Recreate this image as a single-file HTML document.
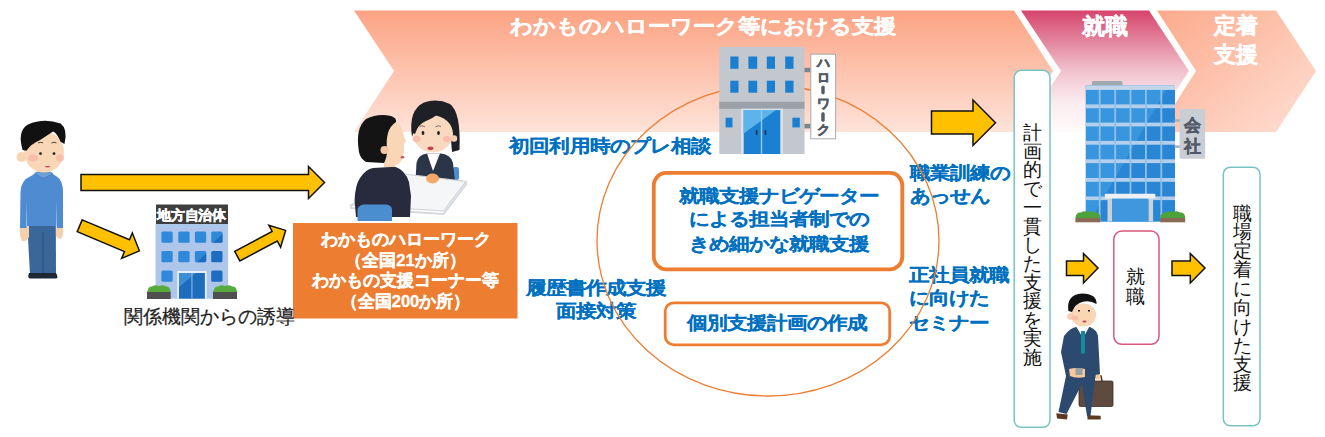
<!DOCTYPE html>
<html lang="ja">
<head>
<meta charset="utf-8">
<style>
html,body{margin:0;padding:0;background:#fff;}
body{width:1325px;height:437px;overflow:hidden;position:relative;font-family:"Liberation Sans",sans-serif;}
svg.bg{position:absolute;left:0;top:0;}
.t{position:absolute;white-space:nowrap;line-height:1;}
.w{color:#fff;font-weight:bold;-webkit-text-stroke:0.35px #fff;}
.b{color:#0070c0;font-weight:bold;-webkit-text-stroke:0.2px #0070c0;}
.s{transform:scaleY(0.875);transform-origin:0 0;}
.v{position:absolute;white-space:nowrap;color:#111;text-align:center;}
</style>
</head>
<body>
<svg class="bg" width="1325" height="437" viewBox="0 0 1325 437">
<defs>
  <linearGradient id="gS" x1="0" y1="0" x2="0" y2="1">
    <stop offset="0" stop-color="#fca383"/>
    <stop offset="1" stop-color="#fee3d9"/>
  </linearGradient>
  <linearGradient id="gC" x1="0" y1="0" x2="0" y2="1">
    <stop offset="0" stop-color="#d6446c"/>
    <stop offset="0.25" stop-color="#e3849d"/>
    <stop offset="0.5" stop-color="#f1c3cf"/>
    <stop offset="0.75" stop-color="#faebef"/>
    <stop offset="1" stop-color="#fffafb"/>
  </linearGradient>
  <linearGradient id="gT" x1="0" y1="0" x2="1" y2="1">
    <stop offset="0" stop-color="#fcaa8b"/>
    <stop offset="1" stop-color="#fee0d5"/>
  </linearGradient>
</defs>
<!-- chevrons -->
<polygon points="354,10.5 1014,10.5 1053,71 1014,132 354,132 394,71" fill="url(#gS)"/>
<polygon points="1021,10.5 1149,10.5 1189,71 1149,132 1021,132 1061,71" fill="url(#gC)"/>
<polygon points="1157,10.5 1276,10.5 1316,71 1276,132 1157,132 1196,71" fill="url(#gT)"/>


<!-- arrows -->
<g fill="#ffc000" stroke="#111" stroke-width="1.5" stroke-linejoin="miter">
  <polygon points="81,174.5 308.5,174.5 308.5,166.5 324.5,182.5 308.5,198.5 308.5,190.5 81,190.5"/>
  <polygon points="931.5,111 973,111 973,100 995.5,122.7 973,145.5 973,134 931.5,134"/>
  <polygon points="1066.5,261 1083.5,261 1083.5,253.5 1098,268 1083.5,283 1083.5,275.5 1066.5,275.5"/>
  <polygon points="1172,261 1190.3,261 1190.3,253.5 1205,268 1190.3,283 1190.3,275.5 1172,275.5"/>
  <g transform="translate(79.7,225.75) rotate(22.8)">
    <polygon points="0,-6.4 51.3,-6.4 51.3,-13.8 64.7,0 51.3,13.8 51.3,6.4 0,6.4"/>
  </g>
  <g transform="translate(237.3,256.2) rotate(-28.1)">
    <polygon points="0,-5.4 42.4,-5.4 42.4,-12.5 54.8,0 42.4,12.5 42.4,5.4 0,5.4"/>
  </g>
</g>

<!-- orange box -->
<rect x="293" y="223" width="224.5" height="95.5" fill="#ed7d31"/>

<!-- rounded boxes -->
<rect x="653.8" y="172.9" width="248.5" height="96.4" rx="12.5" fill="#fff" stroke="#ed7d31" stroke-width="3.8"/>
<rect x="665.2" y="302.8" width="224.5" height="42" rx="8.5" fill="#fff" stroke="#ed7d31" stroke-width="2.8"/>
<rect x="1014.2" y="70.3" width="35.8" height="357" rx="7" fill="#fff" stroke="#79c3c3" stroke-width="1.5"/>
<rect x="1223.3" y="167.3" width="36.7" height="258.5" rx="7" fill="#fff" stroke="#79c3c3" stroke-width="1.5"/>
<rect x="1113.8" y="231.1" width="45.2" height="113.2" rx="8" fill="#fff" stroke="#d9577c" stroke-width="1.5"/>

<!-- municipal building -->
<g>
  <rect x="156" y="204.5" width="72" height="19.5" fill="#3e3e3e"/>
  <rect x="155.6" y="224" width="72.5" height="74.7" fill="#aec6ea"/>
  <g fill="#2e8ad9">
    <rect x="161.4" y="231.5" width="11.3" height="11.3" rx="1.5"/>
    <rect x="178.3" y="231.5" width="11.3" height="11.3" rx="1.5"/>
    <rect x="194.9" y="231.5" width="11.3" height="11.3" rx="1.5"/>
    <rect x="211.2" y="231.5" width="11.3" height="11.3" rx="1.5"/>
    <rect x="161.4" y="250.9" width="11.3" height="11.3" rx="1.5"/>
    <rect x="178.3" y="250.9" width="11.3" height="11.3" rx="1.5"/>
    <rect x="194.9" y="250.9" width="11.3" height="11.3" rx="1.5"/>
    <rect x="211.2" y="250.9" width="11.3" height="11.3" rx="1.5" fill="#1c6cbf"/>
    <rect x="161.4" y="270.5" width="11.3" height="11.3" rx="1.5"/>
    <rect x="211.2" y="270.5" width="11.3" height="11.3" rx="1.5" fill="#1c6cbf"/>
  </g>
  <polygon points="222.5,234 222.5,241.3 221,242.8 213,242.8" fill="#1c6cbf"/>
  <polygon points="206.2,253.4 206.2,260.7 204.7,262.2 196.7,262.2" fill="#1c6cbf"/>
  <rect x="177.2" y="271" width="29.5" height="27.7" fill="#e8eef6"/>
  <rect x="179" y="273" width="25.9" height="25.7" fill="#1e6dbd"/>
  <polygon points="179,273 196,273 179,287" fill="#3d8ed6"/>
  <rect x="191.3" y="273" width="1.2" height="25.7" fill="#7fb0e0"/>
  <rect x="147" y="291.5" width="23.7" height="7.5" fill="#4f4f4f"/>
  <rect x="213" y="291.5" width="24" height="7.5" fill="#4f4f4f"/>
  <path d="M147.5,292 Q148,286 152,286.5 Q155,284.5 159,286 Q163,284.5 166,286.5 Q170,286 170.5,292 Z" fill="#57ab3c"/>
  <path d="M213.5,292 Q214,286 218,286.5 Q221,284.5 225,286 Q229,284.5 232,286.5 Q236.5,286 237,292 Z" fill="#57ab3c"/>
  <text x="191.6" y="219.9" font-size="13.8" font-weight="bold" fill="#fff" stroke="#fff" stroke-width="0.45" text-anchor="middle" letter-spacing="-0.3">地方自治体</text>
</g>

<!-- company building -->
<g>
  <rect x="1091.9" y="81" width="30.6" height="5" rx="1.5" fill="#a0a8b0"/>
  <rect x="1085.7" y="85.4" width="89.3" height="136" fill="#3796de"/>
  <polygon points="1166,89.9 1175,89.9 1175,221.4 1090,221.4" fill="#2886d4"/>
  <rect x="1085.7" y="85.4" width="89.3" height="4.5" fill="#c3d6ea"/>
  <g fill="#b3cfec">
    <rect x="1085.7" y="104.4" width="89.3" height="3.8"/>
    <rect x="1085.7" y="122.6" width="89.3" height="3.8"/>
    <rect x="1085.7" y="140.9" width="89.3" height="3.8"/>
    <rect x="1085.7" y="159.3" width="89.3" height="3.8"/>
    <rect x="1085.7" y="178" width="89.3" height="3.8"/>
    <rect x="1085.7" y="196.5" width="89.3" height="3.6"/>
  </g>
  <g fill="#8fc0ea">
    <rect x="1098.8" y="89.9" width="1.8" height="131.5"/>
    <rect x="1114.3" y="89.9" width="1.8" height="131.5"/>
    <rect x="1129.6" y="89.9" width="1.8" height="131.5"/>
    <rect x="1145" y="89.9" width="1.8" height="131.5"/>
    <rect x="1160.4" y="89.9" width="1.8" height="131.5"/>
  </g>
  <rect x="1112" y="198.2" width="36.6" height="23.2" fill="#3f98de"/>
  <polygon points="1130,198.2 1148.6,198.2 1148.6,221.4 1122,221.4 1140,198.2" fill="#2a7fd0" opacity="0"/>
  <rect x="1107.5" y="198" width="4.5" height="23.4" fill="#c8d0d8"/>
  <rect x="1148.6" y="198" width="4.5" height="23.4" fill="#c8d0d8"/>
  <rect x="1104.8" y="193.8" width="50.6" height="4.6" rx="1.2" fill="#eef1f4"/>
  <rect x="1174.5" y="119.3" width="5.5" height="2.4" fill="#9fb0c0"/>
  <rect x="1174.5" y="145.4" width="5.5" height="2.4" fill="#9fb0c0"/>
  <rect x="1179.6" y="108.9" width="25.6" height="49.9" rx="1" fill="#c9ced4"/>
  <g fill="#525968" stroke="#525968" stroke-width="0.4" font-weight="bold" font-size="16.5" text-anchor="middle">
    <text x="1192.5" y="130.5">会</text>
    <text x="1192.5" y="151.5">社</text>
  </g>
  <rect x="1075.4" y="217.9" width="25" height="4.4" fill="#8a6a55"/>
  <rect x="1160.2" y="217.9" width="25" height="4.4" fill="#8a6a55"/>
  <path d="M1075.4,218 Q1076,212 1081,212.5 Q1084,210.5 1088,212 Q1092,210.5 1095,212.5 Q1100,212 1100.4,218 Z" fill="#4ea23a"/>
  <path d="M1160.2,218 Q1161,212 1166,212.5 Q1169,210.5 1173,212 Q1177,210.5 1180,212.5 Q1185,212 1185.2,218 Z" fill="#4ea23a"/>
</g>

<!-- left person -->
<g>
  <path d="M27.2,224 L55.8,224 L56,274 L30,274 Z" fill="#39679a"/>
  <rect x="42.6" y="232" width="0.9" height="42" fill="#2a4f78"/>
  <path d="M29,273 L43,273 L43,278.5 L30,278.5 Q27,278 29,273 Z" fill="#1c2833"/>
  <path d="M43,273 L56,273 Q59,278 56,278.5 L43,278.5 Z" fill="#1c2833"/>
  <path d="M20,226 Q19,236 22,241 Q27,242 29,237 L29,226 Z" fill="#f6d0ac"/>
  <path d="M56,226 L56,236 Q58,240 62,238 Q64,232 63,226 Z" fill="#f6d0ac"/>
  <path d="M20,228 L20.5,192 Q21,180 31,176 L35,173.6 L52,173.6 L56,176 Q63,180 63,192 L63,228 L57,228 L57,200 L56.5,226 L27,226 L26.5,200 L26.5,228 Z" fill="#4f8bd0"/>
  <path d="M34.5,173.6 L43.5,178.5 L53,173.6 L50.5,172 L36.5,172 Z" fill="#6c9fda" stroke="#3f73b3" stroke-width="0.6"/>
  <circle cx="21.5" cy="157" r="5" fill="#f8d4b2"/>
  <ellipse cx="44" cy="152" rx="20" ry="20.5" fill="#f8d6b6"/>
  <ellipse cx="33" cy="158" rx="5" ry="3.5" fill="#f7b8a8" opacity="0.8"/>
  <ellipse cx="60" cy="158" rx="4" ry="3.5" fill="#f7b8a8" opacity="0.8"/>
  <path d="M22.6,150 Q17,131 28,124.5 Q44,117.5 60.6,123.5 Q68,129 64.5,144 L60.6,141.8 Q57,133 53.1,131.4 Q46,136 39.7,140.3 Q31,144 26.4,150.7 Z" fill="#111"/>
  <circle cx="40.5" cy="153.6" r="1.4" fill="#222"/>
  <circle cx="54" cy="153.6" r="1.4" fill="#222"/>
  <path d="M38,143 Q40.5,141.5 43,143" stroke="#333" stroke-width="0.9" fill="none"/>
  <path d="M51.5,143 Q54,141.5 56.5,143" stroke="#333" stroke-width="0.9" fill="none"/>
  <path d="M44.5,166 Q47.5,169 50.5,166 Z" fill="#d04858"/>
</g>

<!-- counseling illustration -->
<g>
  <rect x="452.5" y="167" width="6.5" height="13" rx="2.5" fill="#4a8fd4"/>
  <path d="M415.5,181 L416.5,163 Q418,154.5 427,153.5 L441,153.5 Q451,154.5 453,163 L455,181 Z" fill="#2b3548"/>
  <path d="M427,153.5 L433,171 L440,153.5 Z" fill="#fff"/>
  <path d="M412,137 Q408,110 424,102.5 Q437,98 450,104 Q461,112 459.5,150 L452,152 L450,128 L415,128 Z" fill="#1f2026"/>
  <ellipse cx="433" cy="134" rx="20" ry="18.5" fill="#f9dac0"/>
  <circle cx="454" cy="138.5" r="3.2" fill="#f6cfb0"/>
  <path d="M412.5,133 Q411,110 426,104.5 Q441,100 452,108 Q456,114 455,125 Q450,116 440,112 Q434,118 426,121 Q418,124 415,134 Z" fill="#1f2026"/>
  <ellipse cx="416.5" cy="139" rx="4" ry="3" fill="#f7b5a5" opacity="0.8"/>
  <ellipse cx="447" cy="139" rx="4" ry="3" fill="#f7b5a5" opacity="0.8"/>
  <ellipse cx="423" cy="133" rx="1.4" ry="1.9" fill="#222"/>
  <ellipse cx="438.5" cy="133" rx="1.4" ry="1.9" fill="#222"/>
  <path d="M419.5,126.5 Q422,125 425,126.8 M435.5,126.8 Q438.5,125 441,126.5" stroke="#6b4a3a" stroke-width="0.8" fill="none"/>
  <ellipse cx="430.5" cy="148.3" rx="3" ry="1.8" fill="#c8404e"/>
  <polygon points="404,174 466,181.5 443.5,211 351,205" fill="#f5f6f8" stroke="#cdd1d7" stroke-width="1.2"/>
  <polyline points="351,205 351,208 443.5,214 466,184.5 466,181.5" fill="none" stroke="#d5d8dd" stroke-width="2"/>
  <ellipse cx="432.5" cy="178.5" rx="6.5" ry="5" fill="#f5a868"/>
  <path d="M356,217 L354.6,201 Q355,185 360,178 Q366,169 373,168 L395,166.8 Q405,170 409,182 L411,196 L410,217 Z" fill="#272b3d"/>
  <path d="M357.5,221 L357.5,210 Q358,205 364,204.5 L386,204.5 Q392,205 392,210 L392,221 Z" fill="#4b8ed0"/>
  <rect x="384" y="160" width="11" height="7" fill="#f6d0b0"/>
  <path d="M387,124 Q396,118 401,127 Q403.5,133 404,137 L406,141 L404,143 Q404.5,150 403,157 Q401,163.5 396,165 L386,165 L385,133 Z" fill="#f8d6b6"/>
  <path d="M359,152 Q355,128 366,119 Q378,113 391,116 Q397,118 396,122 Q390,126 388,133 Q386,140 387,150 Q387,158 384,163 L366,162 Q360,158 359,152 Z" fill="#141414"/>
  <circle cx="384.5" cy="150" r="4" fill="#f4c6a4"/>
  <ellipse cx="402.5" cy="157.2" rx="1.8" ry="1.2" fill="#d0505a"/>
</g>

<!-- businessman -->
<g>
  <rect x="1079" y="381" width="34" height="25.5" rx="1.5" fill="#5e4a3e" stroke="#3e2e25" stroke-width="0.8"/>
  <path d="M1094,381 L1095,376 L1101,376 L1102,381" fill="none" stroke="#3e2e25" stroke-width="1.5"/>
  <path d="M1064,336 Q1070,328 1076,327 L1090,327 Q1097,330 1098,336 L1100,374 L1095,378 L1090.5,416 L1087,416 L1082,384 L1066.5,414 L1058.5,412 L1066,376 L1061,352 Z" fill="#2c4a70"/>
  <path d="M1076.4,327 L1083,338 L1089.2,327 Z" fill="#fff"/>
  <rect x="1081" y="331" width="4" height="22.5" fill="#148a9c"/>
  <path d="M1069,369 Q1076,367 1085,369 L1085,377 Q1076,379 1070,376 Z" fill="#f7c89a"/>
  <rect x="1075.5" y="368" width="7" height="7" rx="1" fill="#9aa0a6"/>
  <rect x="1095.5" y="374.5" width="5" height="5" rx="1.5" fill="#f7c89a"/>
  <ellipse cx="1083.5" cy="315" rx="12.5" ry="11.5" fill="#f8d6b6"/>
  <circle cx="1070.5" cy="316.5" r="3.3" fill="#f8cdb0"/>
  <ellipse cx="1075" cy="318" rx="3" ry="2.3" fill="#f7b8a8" opacity="0.8"/>
  <path d="M1068.4,311 Q1066,295 1082,293.6 Q1097,294 1096.5,304 Q1090,300 1082,302 Q1075,304 1072,312 Z" fill="#111"/>
  <rect x="1078" y="310" width="2" height="1.5" fill="#222"/>
  <rect x="1088" y="310" width="2" height="1.5" fill="#222"/>
  <ellipse cx="1084.5" cy="321.5" rx="2" ry="1.1" fill="#c8404e"/>
  <path d="M1056.3,413.2 L1067.7,414.5 L1067,419.4 L1057,418.4 Z" fill="#5b3a24"/>
  <path d="M1087.3,415.3 L1100.7,415.8 L1100.7,419.4 L1087.5,419.4 Z" fill="#5b3a24"/>
</g>
</svg>

<!-- texts -->
<div class="t w" style="left:510px;top:16.7px;font-size:22px;transform:scaleY(0.9);transform-origin:0 0;">わかものハローワーク等における支援</div>
<div class="t w" style="left:1081.5px;top:16px;font-size:22.5px;">就職</div>
<div class="t w" style="left:1213.5px;top:10.8px;font-size:22px;line-height:29.3px;white-space:normal;width:46px;">定着<br>支援</div>

<div class="t" style="left:123.5px;top:307.3px;font-size:19.4px;color:#222;-webkit-text-stroke:0.25px #222;">関係機関からの誘導</div>
<div class="t w" style="left:293px;top:229px;width:225px;text-align:center;font-size:16.5px;line-height:20.5px;">わかものハローワーク<br>（全国21か所）<br>わかもの支援コーナー等<br>（全国200か所）</div>

<div class="t b s" style="left:509px;top:137.1px;font-size:20.2px;letter-spacing:0.2px;">初回利用時のプレ相談</div>
<div class="t b s" style="left:654px;top:183.6px;width:250px;text-align:center;font-size:20px;line-height:27.4px;">就職支援ナビゲーター<br>による担当者制での<br>きめ細かな就職支援</div>
<div class="t b s" style="left:664.5px;top:314.4px;width:224px;text-align:center;font-size:20px;">個別支援計画の作成</div>
<div class="t b s" style="left:496px;top:276.2px;width:200px;text-align:center;font-size:20px;line-height:27.4px;">履歴書作成支援<br>面接対策</div>
<div class="t b s" style="left:909.5px;top:160.8px;font-size:20px;line-height:27.4px;">職業訓練の<br>あっせん</div>
<div class="t b s" style="left:908.5px;top:262.9px;font-size:20px;line-height:27.4px;">正社員就職<br>に向けた<br>セミナー</div>

<div class="v" style="left:1023px;top:124px;font-size:18.5px;line-height:18.72px;">計<br>画<br>的<br>で<br>一<br>貫<br>し<br>た<br>支<br>援<br>を<br>実<br>施</div>
<div class="v" style="left:1233.3px;top:204.6px;font-size:18.6px;line-height:18.88px;">職<br>場<br>定<br>着<br>に<br>向<br>け<br>た<br>支<br>援</div>
<div class="v" style="left:1126px;top:267px;font-size:19px;line-height:20px;">就<br>職</div>
<svg class="bg" width="1325" height="437" viewBox="0 0 1325 437">
<ellipse cx="768" cy="240.5" rx="171" ry="155.5" fill="none" stroke="#ed7d31" stroke-width="1.3"/>
<!-- hello work building -->
<g>
  <rect x="719.3" y="47" width="85.2" height="107" fill="#c3c8ce"/>
  <rect x="719.3" y="101.8" width="85.2" height="7" fill="#9aa1a8"/>
  <g fill="#1a7fd0">
    <rect x="730.3" y="56.5" width="8.2" height="12.3"/>
    <rect x="748.4" y="56.5" width="8.8" height="12.3"/>
    <rect x="766.8" y="56.5" width="8.2" height="12.3"/>
    <rect x="785.2" y="56.5" width="8.3" height="12.3"/>
    <rect x="730.3" y="80.7" width="8.2" height="12"/>
    <rect x="748.4" y="80.7" width="8.8" height="12"/>
    <rect x="766.8" y="80.7" width="8.2" height="12"/>
    <rect x="785.2" y="80.7" width="8.3" height="12"/>
    <rect x="725.6" y="117.7" width="6.9" height="9.7"/>
    <rect x="792.4" y="117.7" width="7.4" height="9.7"/>
  </g>
  <rect x="741" y="108.7" width="42" height="45.3" fill="#dde1e5"/>
  <rect x="743.7" y="110.1" width="36.6" height="43.9" fill="#1b80d2"/>
  <polygon points="743.7,110.1 776,110.1 743.7,133.5" fill="#5db4ea"/>
  <rect x="760.8" y="110.1" width="1.4" height="43.9" fill="#8fcbf0"/>
  <rect x="755.8" y="130" width="1.7" height="5" rx="0.8" fill="#163050"/>
  <rect x="764.6" y="130" width="1.7" height="5" rx="0.8" fill="#163050"/>
  <rect x="804.5" y="67.8" width="6" height="4.4" fill="#7d848b"/>
  <rect x="804.5" y="123.8" width="6" height="4.6" fill="#7d848b"/>
  <rect x="810.8" y="54.2" width="24.8" height="84.6" fill="#fff" stroke="#a5abb1" stroke-width="1"/>
  <g fill="#535a6a" stroke="#535a6a" stroke-width="0.6" font-weight="bold" font-size="13" text-anchor="middle">
    <text x="823" y="67.3">ハ</text>
    <text x="823" y="81.6">ロ</text>
    <rect x="821.6" y="86" width="2.8" height="8" rx="1.2"/>
    <text x="823" y="107.6">ワ</text>
    <rect x="821.6" y="112.6" width="2.8" height="8.8" rx="1.2"/>
    <text x="823" y="133.6">ク</text>
  </g>
</g>

</svg>
</body>
</html>
